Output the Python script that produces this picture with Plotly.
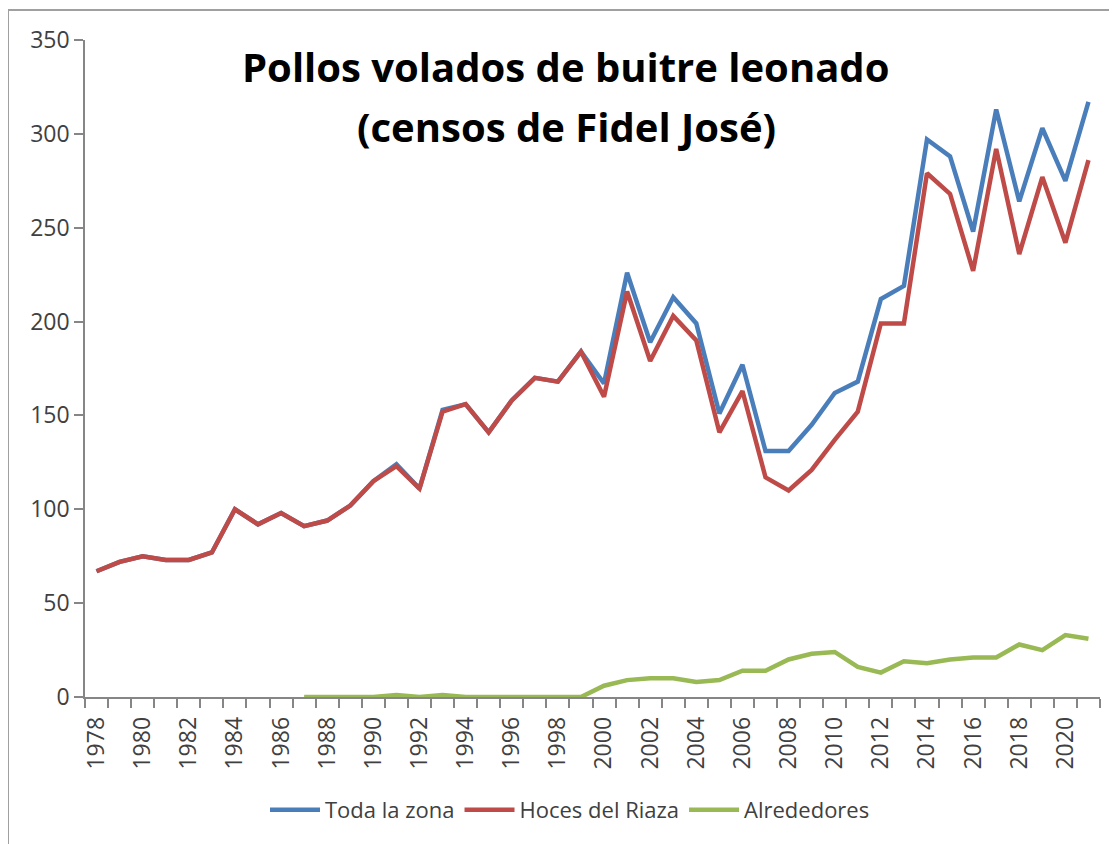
import plotly.graph_objects as go

years = list(range(1978, 2022))
hoces = [67, 72, 75, 73, 73, 77, 100, 92, 98, 91, 94, 102, 115, 123, 111, 152, 156, 141,
         158, 170, 168, 184, 160, 216, 179, 203, 190, 141, 163, 117, 110, 121, 137, 152,
         199, 199, 279, 268, 227, 292, 236, 277, 242, 286]
alrededores_years = list(range(1987, 2022))
alrededores = [0, 0, 0, 0, 1, 0, 1, 0, 0, 0, 0, 0, 0, 6, 9, 10, 10, 8, 9, 14, 14, 20, 23, 24,
               16, 13, 19, 18, 20, 21, 21, 28, 25, 33, 31]
toda = [67, 72, 75, 73, 73, 77, 100, 92, 98, 91, 94, 102, 115, 124, 111, 153, 156, 141,
        158, 170, 168, 184, 167, 226, 189, 213, 199, 151, 177, 131, 131, 145, 162, 168,
        212, 219, 297, 288, 248, 313, 264, 303, 275, 317]
tick_years = list(range(1978, 2022, 2))
title_line1 = "Pollos volados de buitre leonado"
title_line2 = "(censos de Fidel José)"

FONT = "Open Sans, DejaVu Sans, sans-serif"

fig = go.Figure()
fig.add_trace(go.Scatter(x=years, y=toda, mode="lines", name="Toda la zona",
                         line=dict(color="#4A7EBB", width=4.5)))
fig.add_trace(go.Scatter(x=years, y=hoces, mode="lines", name="Hoces del Riaza",
                         line=dict(color="#BE4B48", width=4.5)))
fig.add_trace(go.Scatter(x=alrededores_years, y=alrededores, mode="lines", name="Alrededores",
                         line=dict(color="#98B954", width=4.5)))

# page body has an 8px default margin; work in screen coordinates and compensate
OFF = 8
W, H = 1117 - OFF, 844 - OFF
ml, mr, mt, mb = 85 - OFF, 17, 40 - OFF, 844 - 697
pw, ph = W - ml - mr, H - mt - mb

def px(x):
    return (x - OFF - ml) / pw

def py(y):
    return (H - mb - (y - OFF)) / ph

fig.update_layout(
    width=W, height=H,
    margin=dict(l=ml, r=mr, t=mt, b=mb),
    paper_bgcolor="white", plot_bgcolor="white",
    font=dict(family=FONT, color="#404040", size=22),
    showlegend=True,
    legend=dict(orientation="h", x=px(570), xanchor="center", y=py(810), yanchor="middle",
                font=dict(size=22, color="#404040"), itemwidth=50, tracegroupgap=0),
    xaxis=dict(range=[1977.5, 2021.5], tickvals=tick_years, ticktext=[str(y) for y in tick_years],
               tickangle=-90, ticks="outside", ticklen=9, tickcolor="rgba(0,0,0,0)",
               showgrid=False, zeroline=False,
               showline=True, linecolor="#868686", linewidth=1.5,
               tickfont=dict(size=23, color="#404040"),
               minor=dict(tick0=1977.5, dtick=1, ticks="outside", ticklen=9,
                          tickcolor="#868686", tickwidth=1.5, showgrid=False)),
    yaxis=dict(range=[0, 350], dtick=50, ticks="outside", ticklen=9, tickcolor="#868686",
               tickwidth=1.5, showgrid=False, zeroline=False, showline=True,
               linecolor="#868686", linewidth=1.5, tickfont=dict(size=23, color="#404040")),
    annotations=[
        dict(text="<b>" + title_line1 + "</b>", xref="paper", yref="paper",
             x=px(565), y=py(66), xanchor="center", yanchor="middle",
             showarrow=False, font=dict(size=40, color="black", family=FONT)),
        dict(text="<b>" + title_line2 + "</b>", xref="paper", yref="paper",
             x=px(566), y=py(126), xanchor="center", yanchor="middle",
             showarrow=False, font=dict(size=40, color="black", family=FONT)),
    ],
    shapes=[
        dict(type="line", xref="paper", yref="paper", x0=px(8), y0=py(850),
             x1=px(8), y1=py(10), line=dict(color="#A0A0A0", width=2), layer="below"),
        dict(type="line", xref="paper", yref="paper", x0=px(8), y0=py(10),
             x1=px(1130), y1=py(10), line=dict(color="#A0A0A0", width=2), layer="below"),
    ],
)

fig.write_html("out.html")
